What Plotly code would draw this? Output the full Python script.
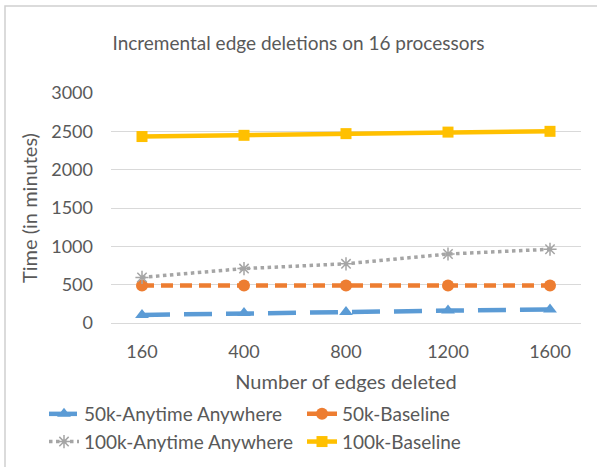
import plotly.graph_objects as go

categories = ["160", "400", "800", "1200", "1600"]
aa_50k = [105, 130, 142, 162, 175]
base_50k = [488, 490, 490, 488, 490]
aa_100k = [595, 710, 772, 900, 962]
base_100k = [2432, 2448, 2470, 2490, 2500]
y_ticks = [0, 500, 1000, 1500, 2000, 2500, 3000]

FONT = "Lato"
TXT = "#595959"
PW, PH = 470, 230  # plot area size in px
L, T = 111, 93


def px_x(p):
    return (p - L) / PW


def px_y(p):
    return (T + PH - p) / PH


fig = go.Figure()
fig.add_trace(go.Scatter(
    x=categories, y=aa_50k, name="50k-Anytime Anywhere", mode="lines+markers",
    legend="legend", legendgroup="a",
    line=dict(color="#5B9BD5", width=4.5, dash="28px,14px"),
    marker=dict(symbol="triangle-up", size=12, color="#5B9BD5")))
fig.add_trace(go.Scatter(
    x=categories, y=base_50k, name="50k-Baseline", mode="lines+markers",
    legend="legend2", legendgroup="b",
    line=dict(color="#ED7D31", width=4.5, dash="12px,7px"),
    marker=dict(symbol="circle", size=12, color="#ED7D31")))
fig.add_trace(go.Scatter(
    x=categories, y=aa_100k, name="100k-Anytime Anywhere", mode="lines+markers",
    legend="legend", legendgroup="c",
    line=dict(color="#A5A5A5", width=3.5, dash="dot"),
    marker=dict(symbol="asterisk-open", size=11, color="#A5A5A5", line=dict(width=1.5, color="#A5A5A5"))))
fig.add_trace(go.Scatter(
    x=categories, y=base_100k, name="100k-Baseline", mode="lines+markers",
    legend="legend2", legendgroup="d",
    line=dict(color="#FFC000", width=4.5),
    marker=dict(symbol="square", size=11, color="#FFC000")))

leg_common = dict(orientation="v", yanchor="top", y=px_y(395), xanchor="left",
                  font=dict(size=19, color=TXT), traceorder="grouped", tracegroupgap=0,
                  bgcolor="rgba(0,0,0,0)")

fig.update_layout(
    width=597, height=467,
    margin=dict(l=L, r=597 - L - PW, t=T, b=467 - T - PH, autoexpand=False),
    paper_bgcolor="white", plot_bgcolor="white",
    font=dict(family=FONT, color=TXT, size=18),
    title=dict(text="Incremental edge deletions on 16 processors", x=0.5, xanchor="center",
               y=1 - 43 / 467, yanchor="middle", font=dict(size=19, color=TXT)),
    xaxis=dict(type="category", showgrid=False, showline=True, linecolor="#D9D9D9", linewidth=1,
               ticks="", ticklabelstandoff=12,
               title=dict(text="Number of edges deleted", font=dict(size=20), standoff=14),
               tickfont=dict(size=18), automargin=False),
    yaxis=dict(range=[0, 3000], tickvals=y_ticks, showgrid=True, gridcolor="#D9D9D9", gridwidth=1,
               zeroline=False, showline=False, ticks="", ticklabelstandoff=17,
               title=dict(text="Time (in minutes)", font=dict(size=20), standoff=8),
               tickfont=dict(size=18), automargin=False),
    legend=dict(x=px_x(44), **leg_common),
    legend2=dict(x=px_x(302), **leg_common),
    showlegend=True,
)
fig.add_shape(type="rect", xref="paper", yref="paper",
              x0=px_x(5), x1=px_x(640), y0=px_y(520), y1=px_y(6),
              line=dict(color="#D0D0D0", width=1.5), fillcolor="rgba(0,0,0,0)", layer="below")

fig.write_html("out.html", post_script="document.body.style.margin='0';",
               config={"displayModeBar": False})
